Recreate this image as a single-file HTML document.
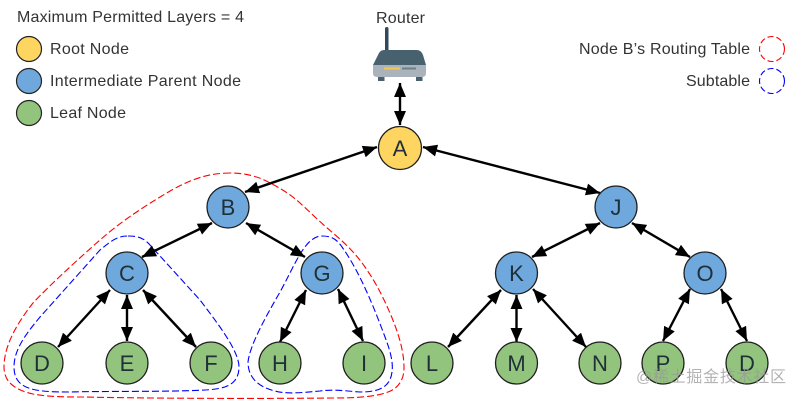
<!DOCTYPE html>
<html>
<head>
<meta charset="utf-8">
<style>
html,body{margin:0;padding:0;background:#fff;width:800px;height:400px;overflow:hidden}
svg{display:block}
text{font-family:"Liberation Sans","Noto Sans CJK SC",sans-serif}
.lg{font-size:16px;fill:#333}
.n{font-size:22px;fill:#1f3038;text-anchor:middle}
.b{fill:#6fa8dc;stroke:#1f1f1f;stroke-width:1.3}
.g{fill:#93c47d;stroke:#1f1f1f;stroke-width:1.3}
.e{stroke:#000;stroke-width:2.4;fill:none;marker-start:url(#s);marker-end:url(#h)}
</style>
</head>
<body>
<svg width="800" height="400" viewBox="0 0 800 400" xmlns="http://www.w3.org/2000/svg">
<defs>
<marker id="h" markerUnits="userSpaceOnUse" markerWidth="16" markerHeight="14" refX="14" refY="6" orient="auto"><path d="M0 0L14 6L0 12Z" fill="#000"/></marker>
<marker id="s" markerUnits="userSpaceOnUse" markerWidth="16" markerHeight="14" refX="0" refY="6" orient="auto"><path d="M14 0L0 6L14 12Z" fill="#000"/></marker>
</defs>

<text class="lg" x="17" y="22" textLength="227" lengthAdjust="spacing">Maximum Permitted Layers = 4</text>
<circle cx="29" cy="49" r="12.5" fill="#ffd561" stroke="#222" stroke-width="1.2"/>
<circle cx="29" cy="81" r="12.5" fill="#6fa8dc" stroke="#222" stroke-width="1.2"/>
<circle cx="29" cy="113" r="12.5" fill="#93c47d" stroke="#222" stroke-width="1.2"/>
<text class="lg" x="50" y="54" textLength="79" lengthAdjust="spacing">Root Node</text>
<text class="lg" x="50" y="86" textLength="191" lengthAdjust="spacing">Intermediate Parent Node</text>
<text class="lg" x="50" y="118" textLength="76" lengthAdjust="spacing">Leaf Node</text>

<text class="lg" x="579" y="54" textLength="171" lengthAdjust="spacing">Node B’s Routing Table</text>
<text class="lg" x="686" y="86" textLength="64" lengthAdjust="spacing">Subtable</text>
<circle cx="772" cy="49" r="12.5" fill="none" stroke="#f00" stroke-width="1.1" stroke-dasharray="6 3"/>
<circle cx="772" cy="81" r="12.5" fill="none" stroke="#00f" stroke-width="1.1" stroke-dasharray="6 3"/>

<text class="lg" x="376" y="23" textLength="49" lengthAdjust="spacing">Router</text>
<rect x="385" y="27" width="3.5" height="26" rx="1.7" fill="#33495a"/>
<path d="M384 50H417Q421 50 423 55L426 65H373L378 55Q380 50 384 50Z" fill="#47616e"/>
<path d="M373 65H426V73Q426 77 422 77H377Q373 77 373 73Z" fill="#aab3bb"/>
<rect x="378" y="77" width="6.500" height="4" fill="#47616e"/>
<rect x="416" y="77" width="6.500" height="4" fill="#47616e"/>
<rect x="384" y="67.500" width="16" height="2" fill="#f1c84b"/>
<rect x="402" y="67.500" width="14" height="2" fill="#6b7f88"/>

<path d="M230 173C205 173 185 182 165 194C140 209 118 224 100 240C75 262 50 285 33 303C18 322 4 345 4 367C4 373 6 379 10 383C16 389 24 392 33 394C49 397 66 397 83 397C130 398 230 399 333 398C355 398 375 397 388 392C399 388 404 379 404 368C404 350 398 332 390 313C383 297 376 283 367 270C358 256 346 244 333 233C322 224 311 213 300 203C290 194 280 188 270 183C258 176 244 173 230 173Z" fill="none" stroke="#f00" stroke-width="1.1" stroke-dasharray="7 3"/>
<path d="M128 236C138 236 144 238 150 245L200 300C215 320 239 350 239 367C239 385 225 389 205 390C170 392 100 391 70 392C35 392 14 390 14 367C14 350 25 335 40 317L100 250C112 240 118 236 128 236Z" fill="none" stroke="#00f" stroke-width="1.1" stroke-dasharray="7 3"/>
<path d="M322 236C330 236 336 238 342 247C360 272 375 310 385 337C392 355 393 365 392 372C390 388 378 392 360 392C345 391 335 389 320 391C300 393 285 394 275 391C255 386 248 375 248 362C250 345 265 318 280 292C295 265 305 236 322 236Z" fill="none" stroke="#00f" stroke-width="1.1" stroke-dasharray="7 3"/>

<line class="e" x1="400" y1="83" x2="400" y2="125"/>
<line class="e" x1="377" y1="147" x2="245" y2="192"/>
<line class="e" x1="423" y1="147" x2="600" y2="193"/>
<line class="e" x1="212" y1="223" x2="142" y2="257"/>
<line class="e" x1="246" y1="223" x2="305" y2="257"/>
<line class="e" x1="110" y1="290" x2="58" y2="347"/>
<line class="e" x1="127" y1="295" x2="127" y2="341"/>
<line class="e" x1="143" y1="290" x2="196" y2="347"/>
<line class="e" x1="306" y1="290" x2="280" y2="342"/>
<line class="e" x1="338" y1="289" x2="363" y2="341"/>
<line class="e" x1="600" y1="223" x2="532" y2="257"/>
<line class="e" x1="632" y1="223" x2="690" y2="257"/>
<line class="e" x1="501" y1="290" x2="448" y2="347"/>
<line class="e" x1="516.500" y1="295" x2="516.500" y2="342"/>
<line class="e" x1="533" y1="289" x2="586" y2="347"/>
<line class="e" x1="690" y1="289" x2="663" y2="341"/>
<line class="e" x1="721" y1="289" x2="747" y2="341"/>

<circle cx="400" cy="148" r="21.500" fill="#ffd561" stroke="#1f1f1f" stroke-width="1.3"/>
<circle class="b" cx="228" cy="207" r="21"/>
<circle class="b" cx="127" cy="273" r="21"/>
<circle class="b" cx="322" cy="273" r="21"/>
<circle class="b" cx="616" cy="207" r="21"/>
<circle class="b" cx="516.500" cy="273" r="21"/>
<circle class="b" cx="705" cy="273" r="21"/>
<circle class="g" cx="42" cy="363" r="21"/>
<circle class="g" cx="127" cy="363" r="21"/>
<circle class="g" cx="211" cy="363" r="21"/>
<circle class="g" cx="280" cy="363" r="21"/>
<circle class="g" cx="364" cy="363" r="21"/>
<circle class="g" cx="432" cy="363" r="21"/>
<circle class="g" cx="516.500" cy="363" r="21"/>
<circle class="g" cx="600" cy="363" r="21"/>
<circle class="g" cx="663" cy="363" r="21"/>
<circle class="g" cx="747" cy="363" r="21"/>

<text class="n" x="400" y="156">A</text>
<text class="n" x="228" y="215">B</text>
<text class="n" x="127" y="281">C</text>
<text class="n" x="322" y="281">G</text>
<text class="n" x="616" y="215">J</text>
<text class="n" x="516.500" y="281">K</text>
<text class="n" x="705" y="281">O</text>
<text class="n" x="42" y="371">D</text>
<text class="n" x="127" y="371">E</text>
<text class="n" x="211" y="371">F</text>
<text class="n" x="280" y="371">H</text>
<text class="n" x="364" y="371">I</text>
<text class="n" x="432" y="371">L</text>
<text class="n" x="516.500" y="371">M</text>
<text class="n" x="600" y="371">N</text>
<text class="n" x="663" y="371">P</text>
<text class="n" x="747" y="371">D</text>

<text x="636" y="382" font-size="16" fill="#999" fill-opacity="0.75" textLength="150" lengthAdjust="spacing">@稀土掘金技术社区</text>
</svg>
</body>
</html>
